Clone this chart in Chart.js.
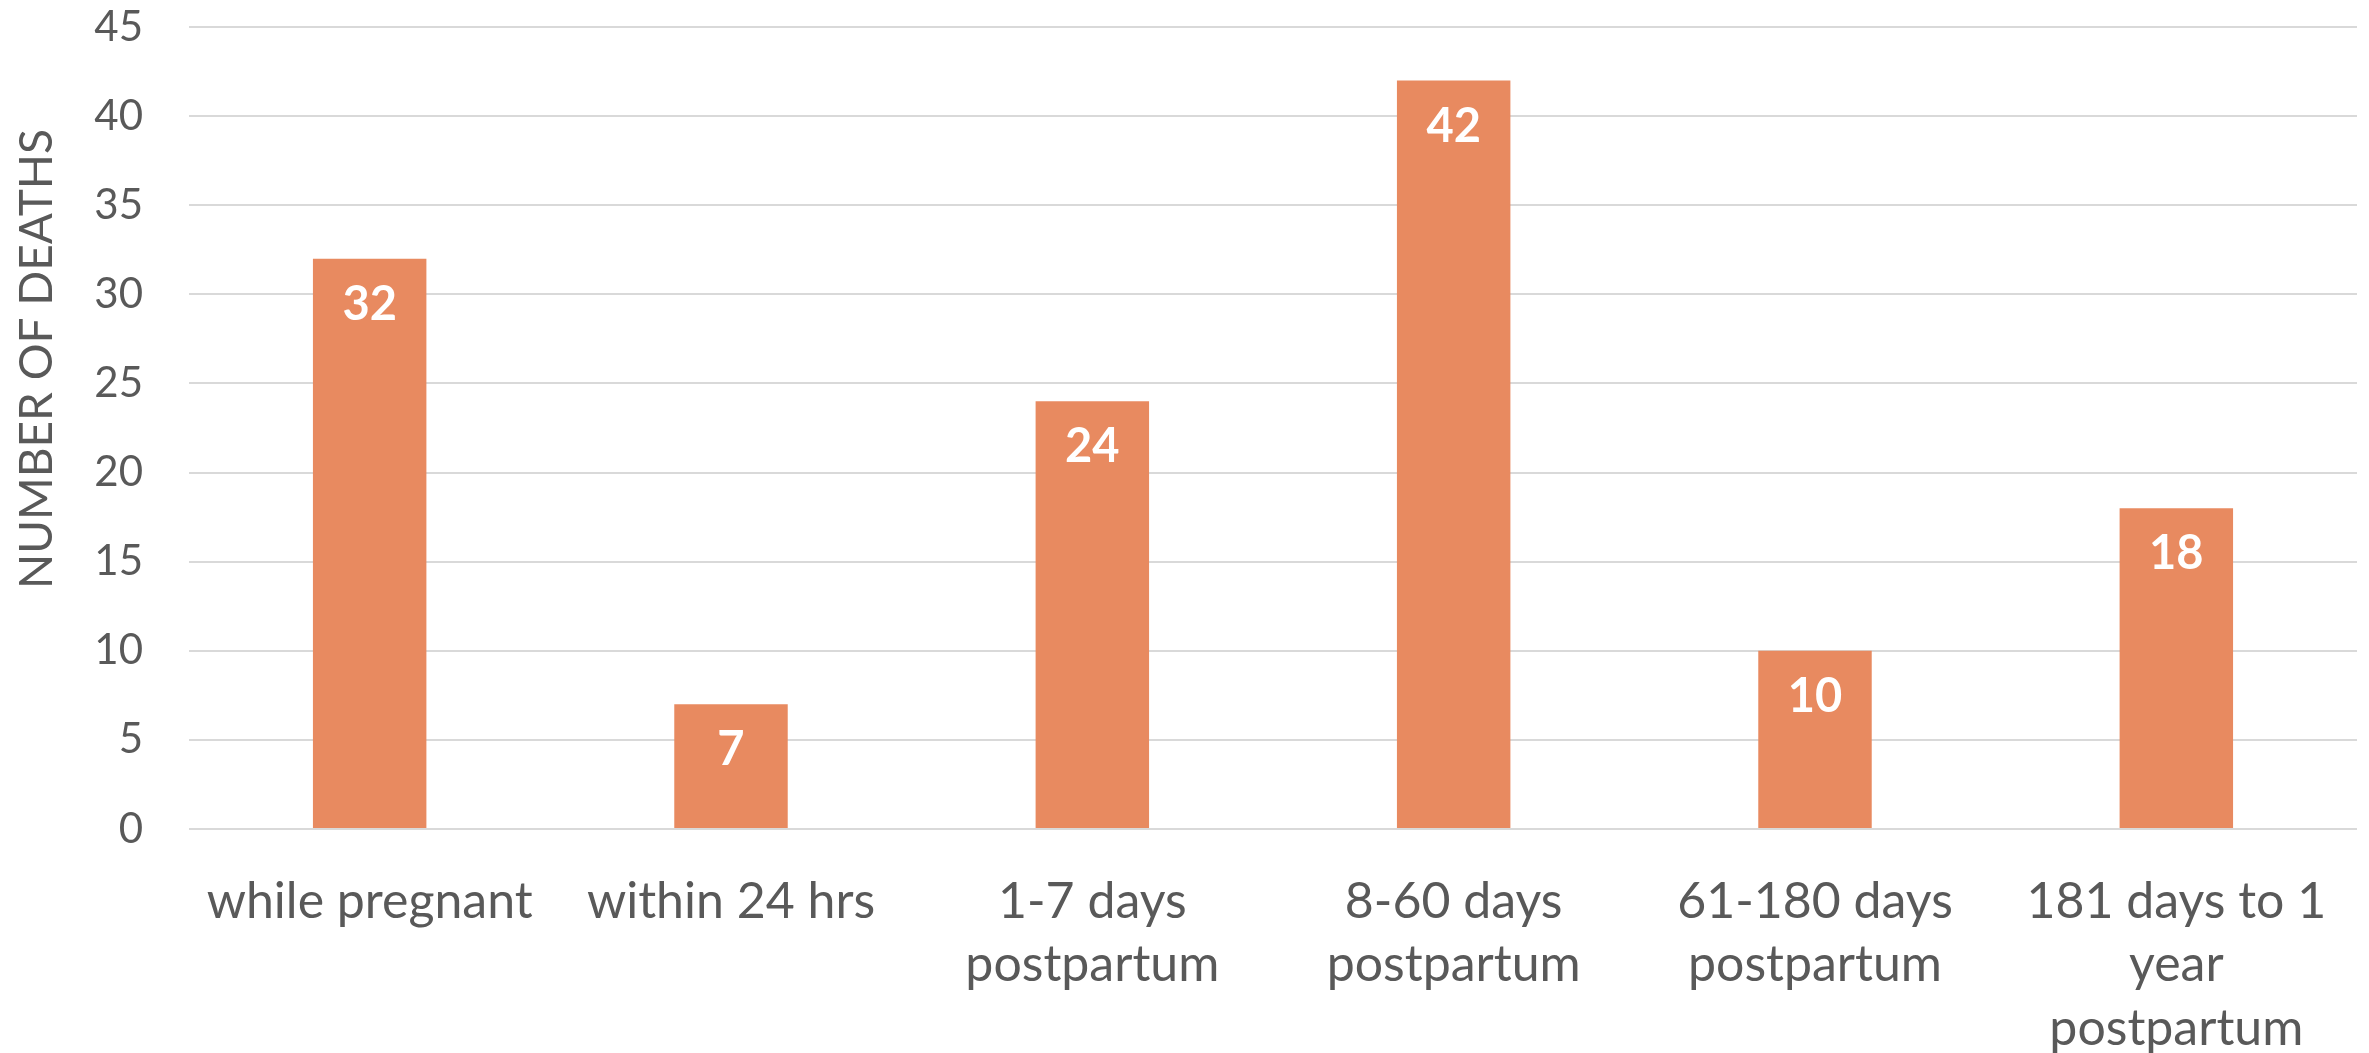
<!DOCTYPE html>
<html>
<head>
<meta charset="utf-8">
<script src="https://cdn.jsdelivr.net/npm/chart.js@4.4.1/dist/chart.umd.min.js"></script>
<style>
  html, body { margin: 0; padding: 0; background: #fff; }
  #wrap { width: 2369px; height: 1053px; }
</style>
</head>
<body>
<div id="wrap"><canvas id="deaths"></canvas></div>
<script>
// deaths by timing relative to pregnancy
const periods = [
  ['while pregnant'],
  ['within 24 hrs'],
  ['1-7 days', 'postpartum'],
  ['8-60 days', 'postpartum'],
  ['61-180 days', 'postpartum'],
  ['181 days to 1', 'year', 'postpartum']
];
const deaths = [32, 7, 24, 42, 10, 18];
const yTicks = [0, 5, 10, 15, 20, 25, 30, 35, 40, 45];
const yTitle = 'NUMBER OF DEATHS';

const textGrey = '#595959';
const barColor = '#E88A60';
const gridColor = '#D9D9D9';

// white bold numbers just inside the top of each bar
const barValues = {
  id: 'barValues',
  afterDatasetsDraw(chart) {
    const ctx = chart.ctx;
    const meta = chart.getDatasetMeta(0);
    ctx.save();
    ctx.fillStyle = '#ffffff';
    ctx.font = 'bold 47px Lato';
    ctx.textAlign = 'center';
    ctx.textBaseline = 'middle';
    meta.data.forEach((bar, i) => {
      ctx.fillText(String(deaths[i]), bar.x, bar.y + 46);
    });
    ctx.restore();
  }
};

// rotated axis title
const axisTitle = {
  id: 'axisTitle',
  afterDraw(chart) {
    const ctx = chart.ctx;
    ctx.save();
    ctx.translate(37, 359);
    ctx.rotate(-Math.PI / 2);
    ctx.fillStyle = textGrey;
    ctx.font = '46px Lato';
    ctx.textAlign = 'center';
    ctx.textBaseline = 'middle';
    ctx.fillText(yTitle, 0, 0);
    ctx.restore();
  }
};

new Chart(document.getElementById('deaths'), {
  type: 'bar',
  data: {
    labels: periods,
    datasets: [{
      data: deaths,
      backgroundColor: barColor,
      borderWidth: 0,
      categoryPercentage: 1,
      barPercentage: 0.314
    }]
  },
  options: {
    responsive: true,
    maintainAspectRatio: false,
    animation: false,
    layout: { padding: { top: 27, right: 12, left: 0, bottom: 0 } },
    plugins: {
      legend: { display: false },
      tooltip: { enabled: false }
    },
    scales: {
      x: {
        grid: { display: false, drawTicks: false },
        border: { display: false },
        ticks: {
          color: textGrey,
          font: { family: 'Lato', size: 50, lineHeight: 1.27 },
          padding: 41,
          maxRotation: 0,
          autoSkip: false
        },
        afterFit(scale) {
          scale.height = 224;
          scale.paddingLeft = 0;
          scale.paddingRight = 0;
        }
      },
      y: {
        min: 0,
        max: 45,
        afterBuildTicks(scale) { scale.ticks = yTicks.map(v => ({ value: v })); },
        grid: { color: gridColor, lineWidth: 2, drawTicks: false },
        border: { display: false },
        ticks: {
          color: textGrey,
          font: { family: 'Lato', size: 42 },
          padding: 46
        },
        afterFit(scale) {
          scale.width = 189;
          scale.paddingTop = 0;
          scale.paddingBottom = 0;
        }
      }
    }
  },
  plugins: [barValues, axisTitle]
});
</script>
</body>
</html>
